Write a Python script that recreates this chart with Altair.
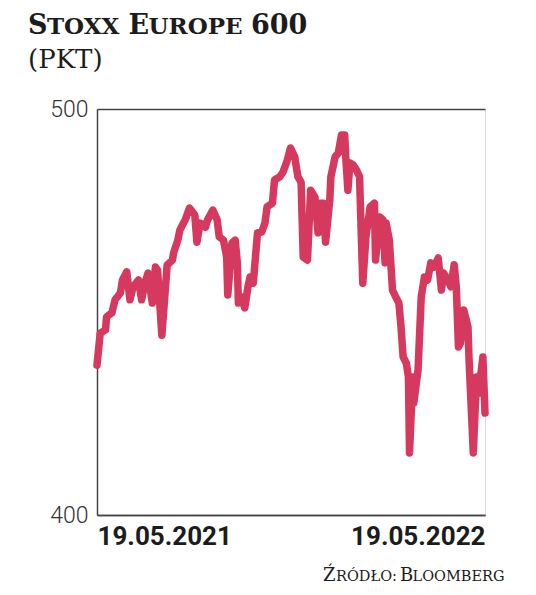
import altair as alt
import pandas as pd

# ---- data ----
day_offset = [0, 3, 8, 9, 14, 17, 22, 24, 28, 31, 34, 39, 42, 45, 48, 52, 55, 57, 61, 66,
              71, 72, 76, 78, 83, 87, 92, 94, 97, 102, 104, 109, 113, 115, 119, 122, 123, 127, 130, 132,
              133, 136, 139, 142, 144, 147, 151, 155, 158, 160, 165, 167, 172, 175, 179, 182, 186, 189, 192, 194,
              198, 201, 205, 208, 210, 213, 215, 219, 220, 224, 227, 230, 233, 234, 236, 238, 241, 244, 247, 250,
              253, 257, 261, 262, 266, 269, 271, 272, 275, 278, 281, 284, 286, 288, 291, 293, 294, 297, 298, 302,
              305, 308, 311, 314, 317, 321, 324, 326, 330, 333, 336, 338, 340, 342, 345, 349, 350, 354, 357, 359,
              363, 365]
index_pts = [436.9, 444.8, 445.6, 448.8, 449.8, 453.0, 454.7, 457.9, 459.9, 453.0, 456.2, 457.9, 453.0, 457.1, 459.6, 452.2, 461.1, 460.3, 444.3, 461.6,
             462.8, 464.5, 467.7, 470.2, 472.7, 475.6, 473.9, 467.2, 471.9, 470.9, 472.7, 475.1, 472.7, 468.5, 467.7, 463.5, 454.2, 467.0, 467.7, 462.1,
             452.2, 453.7, 451.0, 456.2, 458.6, 457.1, 469.5, 469.7, 471.9, 475.9, 476.8, 482.5, 483.3, 484.5, 487.4, 490.4, 488.2, 483.3, 482.0, 463.5,
             462.8, 480.0, 478.3, 469.5, 476.8, 476.8, 467.2, 477.6, 483.3, 488.2, 489.2, 493.6, 493.6, 488.2, 480.0, 486.7, 486.2, 485.0, 483.3, 457.1,
             468.5, 475.9, 476.8, 462.8, 473.4, 472.7, 462.1, 471.9, 467.7, 455.4, 453.7, 452.2, 446.3, 438.9, 437.4, 434.0, 415.3, 434.0, 427.6, 435.7,
             453.7, 458.6, 457.9, 462.1, 461.1, 463.3, 455.4, 459.6, 457.9, 456.2, 461.6, 456.2, 441.4, 442.4, 450.5, 446.3, 438.2, 415.3, 434.0, 430.0,
             438.9, 425.1]
start_date = "2021-05-19"
end_date = "2022-05-19"
y_ticks = [400, 500]

title_parts = ["S", "TOXX", "E", "UROPE", "600"]
unit_text = "(PKT)"
source_parts = ["Ź", "RÓDŁO:", "B", "LOOMBERG"]

base = pd.Timestamp(start_date)
df = pd.DataFrame({
    "date": [(base + pd.Timedelta(days=d)).strftime("%Y-%m-%d") for d in day_offset],
    "value": index_pts,
})

RED = "#d5395e"
INK = "#1c1c1c"

d0 = alt.DateTime(year=2021, month=5, date=19, utc=True)
d1 = alt.DateTime(year=2022, month=5, date=19, utc=True)

line = alt.Chart(df).mark_line(
    color=RED, strokeWidth=7.5, strokeJoin="round", strokeCap="round"
).encode(
    x=alt.X("date:T",
            scale=alt.Scale(type="utc", domain=[d0, d1]),
            axis=alt.Axis(values=[d0, d1], labelExpr="utcFormat(datum.value, '%d.%m.%Y')",
                          title=None, ticks=False, grid=False, labelFlush=True,
                          domainColor="#444", domainWidth=1.5,
                          labelFont="Roboto", labelFontSize=26, labelFontWeight="bold",
                          labelColor=INK, labelPadding=8)),
    y=alt.Y("value:Q",
            scale=alt.Scale(domain=[400, 500], nice=False, zero=False),
            axis=alt.Axis(values=y_ticks, title=None, ticks=False, grid=True,
                          gridColor="#444", gridWidth=1.5, gridOpacity=1,
                          domainColor="#444", domainWidth=1.5,
                          labelFont="Roboto", labelFontSize=23, labelFontWeight=300,
                          labelColor="#333", labelPadding=9)),
)

OX, OY = 97, 109  # page position of the plot origin


def piece(txt, px, py, size, weight="bold", align="left"):
    return alt.Chart(pd.DataFrame({"t": [txt]})).mark_text(
        font="DejaVu Serif", fontSize=size, fontWeight=weight, color=INK,
        align=align, baseline="alphabetic"
    ).encode(x=alt.value(px - OX), y=alt.value(py - OY), text="t:N")


CAP, SC = 27, 23
TY = 34
SCAP, SSC = 18, 14.5
SY = 581
layers = [line,
          piece(title_parts[0], 28, TY, CAP),
          piece(title_parts[1], 47, TY, SC),
          piece(title_parts[2], 128.5, TY, CAP),
          piece(title_parts[3], 148.5, TY, SC),
          piece(title_parts[4], 251, TY, CAP),
          piece(unit_text, 28, 68, 26, weight="normal"),
          piece(source_parts[0], 323, SY, SCAP, weight="normal"),
          piece(source_parts[1], 336, SY, SSC, weight="normal"),
          piece(source_parts[2], 400, SY, SCAP, weight="normal"),
          piece(source_parts[3], 412.5, SY, SSC, weight="normal"),
          ]

chart = alt.layer(*layers).properties(
    width=388, height=406,
    autosize=alt.AutoSizeParams(type="none"),
    padding={"left": 89, "top": 101, "right": 43, "bottom": 72},
).configure_view(stroke=None).configure(background="white")

chart.save("out.html", embed_options={"renderer": "svg", "actions": False})
